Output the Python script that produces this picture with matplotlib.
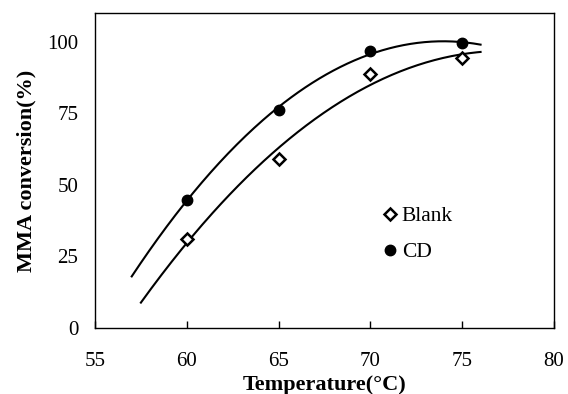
import numpy as np
import matplotlib
matplotlib.use("Agg")
import matplotlib.pyplot as plt

plt.rcParams['font.family'] = ['Liberation Serif', 'DejaVu Serif']

temps = [60, 65, 70, 75]
blank = [31.0, 59.0, 88.8, 94.3]
cd = [44.8, 76.2, 96.6, 99.5]

# trendline ranges (2nd order fit, extended like excel forecast)
blank_range = (57.5, 76)
cd_range = (57, 76)

fig = plt.figure(figsize=(5.68, 3.94), dpi=100)
ax = fig.add_axes([95 / 568, 1 - 328 / 394, (554 - 95) / 568, (328 - 13) / 394])

for y, rng in [(blank, blank_range), (cd, cd_range)]:
    coef = np.polyfit(temps, y, 2)
    xs = np.linspace(rng[0], rng[1], 200)
    ax.plot(xs, np.polyval(coef, xs), color='black', lw=1.5, zorder=2)

ax.plot(temps, blank, linestyle='none', marker='D', ms=6, mfc='white', mec='black',
        mew=1.8, label='Blank', zorder=3)
ax.plot(temps, cd, linestyle='none', marker='o', ms=7.5, mfc='black', mec='black',
        label='CD', zorder=3)

ax.set_xlim(55, 80)
ax.set_ylim(0, 110)
ax.set_xticks([55, 60, 65, 70, 75, 80])
ax.set_yticks([0, 25, 50, 75, 100])
ax.tick_params(axis='x', direction='in', length=5, labelsize=15, pad=17, width=1)
ax.tick_params(axis='y', direction='in', length=0, labelsize=15, pad=12)
for s in ax.spines.values():
    s.set_linewidth(1)

ax.set_xlabel('Temperature(°C)', fontsize=16, fontweight='bold', labelpad=3)
ax.set_ylabel('MMA conversion(%)', fontsize=16, fontweight='bold', labelpad=8)

ax.legend(loc='center left', bbox_to_anchor=(0.605, 0.298), frameon=False, fontsize=15.5,
          handlelength=0.6, handletextpad=0.25, labelspacing=0.75, borderpad=0)

fig.savefig('out.png', dpi=100)
